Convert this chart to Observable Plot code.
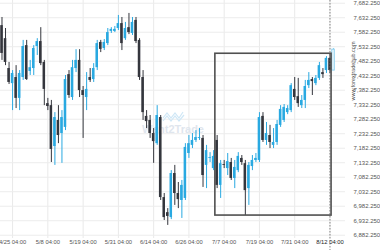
<!DOCTYPE html>
<html><head><meta charset="utf-8">
<script src="https://cdn.jsdelivr.net/npm/d3@7"></script>
<script src="https://cdn.jsdelivr.net/npm/@observablehq/plot@0.6"></script>
<style>
html,body{margin:0;padding:0;background:#fff;overflow:hidden}
#chart{position:relative;width:380px;height:250px}
svg{font-family:"Liberation Sans",Arial,sans-serif}
</style></head><body><div id="chart"></div>
<script>
const opens  = [7605,7560,7457,7405,7426,7354,7426,7536,7447,7457,7533,7550,7478,7336,7329,7188,7278,7233,7254,7436,7357,7457,7485,7381,7357,7426,7419,7460,7547,7526,7543,7585,7585,7595,7612,7560,7598,7578,7623,7554,7426,7292,7278,7233,7198,7288,7012,6960,6943,7095,7026,7002,7009,7164,7192,7209,7216,7216,7123,7147,7112,7209,7054,7126,7112,7133,7078,7105,7147,7129,7043,7119,7140,7140,7292,7209,7226,7192,7202,7261,7278,7305,7312,7385,7360,7329,7347,7398,7419,7405,7423,7443,7450,7492,7450];
const highs  = [7633,7595,7478,7450,7467,7450,7554,7554,7485,7536,7560,7598,7485,7354,7347,7305,7329,7312,7433,7450,7485,7522,7522,7395,7443,7457,7474,7554,7554,7557,7595,7598,7602,7640,7633,7616,7647,7633,7633,7560,7450,7312,7295,7250,7329,7295,7026,6974,7105,7123,7064,7071,7198,7226,7233,7243,7250,7226,7192,7167,7174,7226,7140,7140,7164,7147,7140,7167,7157,7140,7133,7157,7164,7305,7305,7271,7261,7250,7278,7329,7333,7329,7405,7426,7423,7364,7416,7443,7426,7433,7478,7457,7498,7508,7526];
const lows   = [7485,7467,7402,7312,7319,7312,7416,7416,7433,7433,7502,7467,7329,7312,7133,7123,7198,7130,7243,7354,7347,7443,7357,7216,7312,7409,7409,7450,7512,7519,7536,7578,7581,7588,7519,7554,7574,7571,7543,7416,7278,7250,7216,7130,7192,7002,6933,6916,6936,6985,6974,6940,7002,7147,7181,7202,7209,7047,7043,7133,7105,7043,7009,7112,7088,7071,7043,7098,7123,6950,6985,7105,7133,7133,7202,7192,7181,7181,7192,7254,7271,7298,7305,7347,7323,7319,7319,7388,7364,7398,7416,7423,7440,7440,7450];
const closes = [7509,7478,7409,7440,7354,7440,7533,7419,7460,7526,7550,7474,7385,7326,7178,7288,7226,7288,7419,7364,7460,7485,7381,7364,7385,7416,7457,7543,7523,7547,7581,7592,7592,7612,7543,7595,7581,7616,7550,7426,7305,7274,7233,7205,7295,7012,6943,6947,7095,7026,7005,7054,7185,7198,7209,7219,7219,7088,7174,7150,7154,7054,7129,7123,7136,7078,7116,7154,7133,7036,7123,7140,7147,7288,7209,7233,7202,7202,7264,7316,7323,7319,7398,7357,7336,7347,7395,7416,7412,7423,7467,7436,7492,7450,7522];

const xTickIndex  = [3,13,23,33,43,53,63,73,83,93];
const xTickLabels = ["4/25 04:00","5/8 04:00","5/19 04:00","5/31 04:00","6/14 04:00","6/26 04:00","7/7 04:00","7/19 04:00","7/31 04:00","8/12 04:00"];
const yTicks = [6882.25,6932.25,6982.25,7032.25,7082.25,7132.25,7182.25,7232.25,7282.25,7332.25,7382.25,7432.25,7482.25,7532.25,7582.25,7632.25,7682.25];
const currentIndex = 93;
const boxFrom = 61, boxTo = 93;

const data = opens.map((o, i) => ({i, o, h: highs[i], l: lows[i], c: closes[i]}));
const last = data.length - 1;
const done = data.filter(d => d.i !== last);
const live = data.filter(d => d.i === last);
const boxSlice = data.filter(d => d.i >= boxFrom && d.i <= boxTo);
const box = [{x1: boxFrom - 0.5, x2: boxTo + 0.45, y1: d3.min(boxSlice, d => d.l), y2: d3.max(boxSlice, d => d.h)}];
const xTicks = xTickIndex.map((x, k) => ({x, label: xTickLabels[k], cur: x === currentIndex}));
const fmt = d3.format(",.3f");
const BULL = "#29a9e1", BEAR = "#34363d";
const col = d => d.c >= d.o ? BULL : BEAR;

const plot = Plot.plot({
  width: 380, height: 250,
  marginLeft: 0, marginRight: 35, marginTop: 0, marginBottom: 12,
  x: {type: "linear", domain: [-0.425, 97.4], axis: null},
  y: {domain: [6870.9, 7691.6], axis: null},
  style: {background: "#fff", fontFamily: "'Liberation Sans', Arial, sans-serif"},
  marks: [
    Plot.gridX(xTickIndex, {stroke: "#e9e9e9", strokeOpacity: 1}),
    Plot.gridY(yTicks, {stroke: "#ececec", strokeOpacity: 1}),
    Plot.text(["Want2Trade"], {frameAnchor: "middle", dx: 0, dy: 10, fontSize: 11, fontWeight: "bold", fill: "#dfe6ee"}),
    Plot.ruleX(done, {x: "i", y1: "l", y2: "h", stroke: col, strokeWidth: 1}),
    Plot.rect(done, {x1: d => d.i - 0.36, x2: d => d.i + 0.36, y1: d => Math.min(d.o, d.c), y2: d => Math.max(d.o, d.c), fill: col}),
    Plot.ruleX(live, {x: "i", y1: "l", y2: "h", stroke: "#8fd0ef", strokeWidth: 1}),
    Plot.rect(live, {x1: d => d.i - 0.36, x2: d => d.i + 0.36, y1: d => Math.min(d.o, d.c), y2: d => Math.max(d.o, d.c), fill: "#eaf6fc", stroke: "#8fd0ef", strokeWidth: 1}),
    Plot.rect(box, {x1: "x1", x2: "x2", y1: "y1", y2: "y2", fill: "none", stroke: "#505050", strokeWidth: 1.6}),
    Plot.ruleX([currentIndex], {stroke: "#666", strokeWidth: 0.8, strokeDasharray: "1.5,1.5", insetBottom: -12}),
    Plot.text(yTicks, {y: d => d, frameAnchor: "right", dx: 8, textAnchor: "start", text: d => fmt(d), fontSize: 6, fill: "#555"}),
    Plot.text(xTicks, {x: "x", frameAnchor: "bottom", dy: 5, text: "label", fontSize: 5.8, fill: d => d.cur ? "#222" : "#555", fontWeight: d => d.cur ? "bold" : "normal"}),
    Plot.text(["www.forextradehub.com"], {frameAnchor: "top-right", dx: 6, dy: 41, rotate: -90, fontSize: 5.5, fill: "#555"})
  ]
});
document.getElementById("chart").appendChild(plot);

// faint logo wave above the watermark
const svg = d3.select(plot);
svg.insert("path", "g[aria-label='rule']")
  .attr("d", "M163,118 L167,113 L171,118 L175,113 L179,118 L183,112 M163,121 L167,116 L171,121 L175,116 L179,121 L184,115")
  .attr("fill", "none").attr("stroke", "#cfe7f6").attr("stroke-width", 1.2);
</script></body></html>
